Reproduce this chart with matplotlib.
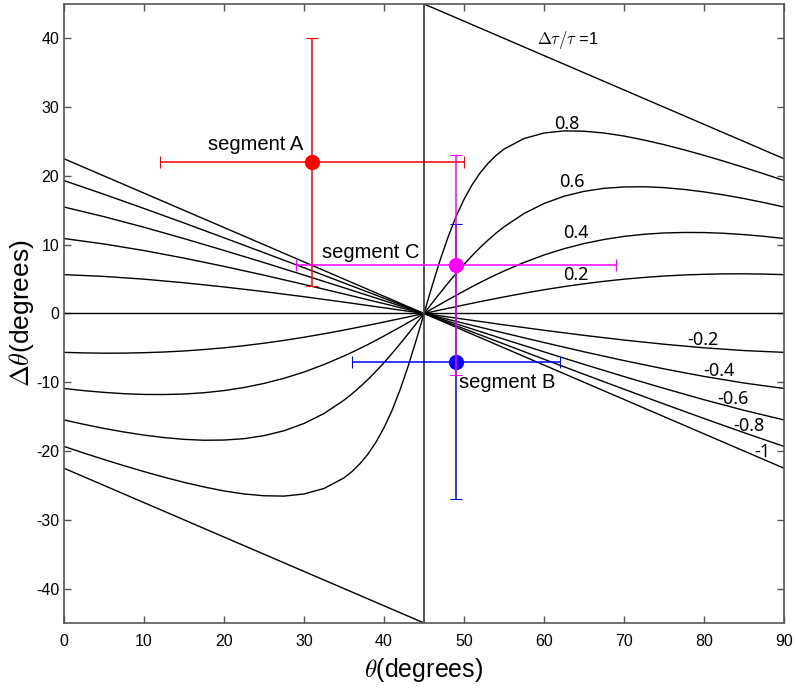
import matplotlib.pyplot as plt

plt.rcParams['font.family'] = ['Liberation Sans', 'DejaVu Sans']
plt.rcParams['mathtext.fontset'] = 'cm'
plt.rcParams['axes.unicode_minus'] = False

# theta grids (degrees)
theta_lin_left = [0, 5, 10, 15, 20, 25, 30, 35, 40, 45]
theta_lin_right = [45, 50, 55, 60, 65, 70, 75, 80, 85, 90]
theta_curve_left = [0, 2.5, 5, 7.5, 10, 12.5, 15, 17.5, 20, 22.5, 25, 27.5, 30,
                    32.5, 35, 36, 37, 38, 39, 40, 41, 42, 43, 44, 44.5, 45]
theta_curve_right = [45, 45.5, 46, 47, 48, 49, 50, 51, 52, 53, 54, 55, 57.5,
                     60, 62.5, 65, 67.5, 70, 72.5, 75, 77.5, 80, 82.5, 85, 87.5, 90]

# positive ratios, left half (nearly straight)
left_pos = {
    0.8: [19.33, 17.33, 15.27, 13.16, 11.01, 8.84, 6.65, 4.44, 2.22, 0],
    0.6: [15.48, 14.08, 12.54, 10.89, 9.17, 7.40, 5.58, 3.74, 1.87, 0],
    0.4: [10.90, 10.11, 9.15, 8.05, 6.85, 5.57, 4.22, 2.84, 1.43, 0],
    0.2: [5.65, 5.39, 4.99, 4.47, 3.86, 3.18, 2.44, 1.65, 0.83, 0],
}
# negative ratios, right half (nearly straight)
right_neg = {
    -0.2: [0, -0.83, -1.65, -2.44, -3.18, -3.86, -4.47, -4.99, -5.39, -5.65],
    -0.4: [0, -1.43, -2.84, -4.22, -5.57, -6.85, -8.05, -9.15, -10.11, -10.90],
    -0.6: [0, -1.87, -3.74, -5.58, -7.40, -9.17, -10.89, -12.54, -14.08, -15.48],
    -0.8: [0, -2.22, -4.44, -6.65, -8.84, -11.01, -13.16, -15.27, -17.33, -19.33],
}
# negative ratios, left half (curved)
left_neg = {
    -0.8: [-19.33, -20.30, -21.23, -22.13, -22.99, -23.80, -24.55, -25.22, -25.80,
           -26.24, -26.50, -26.55, -26.24, -25.44, -23.90, -22.98, -21.83, -20.43,
           -18.70, -16.60, -14.10, -11.10, -7.72, -3.96, -2.00, 0],
    -0.6: [-15.48, -16.12, -16.71, -17.23, -17.68, -18.04, -18.30, -18.43, -18.40,
           -18.20, -17.76, -17.05, -15.99, -14.54, -12.60, -11.68, -10.67, -9.58,
           -8.40, -7.14, -5.81, -4.42, -2.98, -1.50, -0.75, 0],
    -0.4: [-10.90, -11.22, -11.47, -11.66, -11.77, -11.78, -11.71, -11.52, -11.21,
           -10.76, -10.17, -9.42, -8.51, -7.42, -6.18, -5.64, -5.08, -4.50,
           -3.89, -3.27, -2.63, -1.99, -1.33, -0.67, -0.33, 0],
    -0.2: [-5.65, -5.73, -5.77, -5.76, -5.70, -5.60, -5.45, -5.24, -4.99,
           -4.68, -4.32, -3.91, -3.45, -2.95, -2.41, -2.18, -1.95, -1.72,
           -1.48, -1.24, -0.99, -0.75, -0.50, -0.25, -0.13, 0],
}
# positive ratios, right half (curved)
right_pos = {
    0.8: [0, 2.00, 3.96, 7.72, 11.10, 14.10, 16.60, 18.70, 20.43, 21.83, 22.98, 23.90,
          25.44, 26.24, 26.55, 26.50, 26.24, 25.80, 25.22, 24.55, 23.80, 22.99, 22.13,
          21.23, 20.30, 19.33],
    0.6: [0, 0.75, 1.50, 2.98, 4.42, 5.81, 7.14, 8.40, 9.58, 10.67, 11.68, 12.60,
          14.54, 15.99, 17.05, 17.76, 18.20, 18.40, 18.43, 18.30, 18.04, 17.68, 17.23,
          16.71, 16.12, 15.48],
    0.4: [0, 0.33, 0.67, 1.33, 1.99, 2.63, 3.27, 3.89, 4.50, 5.08, 5.64, 6.18,
          7.42, 8.51, 9.42, 10.17, 10.76, 11.21, 11.52, 11.71, 11.78, 11.77, 11.66,
          11.47, 11.22, 10.90],
    0.2: [0, 0.13, 0.25, 0.50, 0.75, 0.99, 1.24, 1.48, 1.72, 1.95, 2.18, 2.41,
          2.95, 3.45, 3.91, 4.32, 4.68, 4.99, 5.24, 5.45, 5.60, 5.70, 5.76,
          5.77, 5.73, 5.65],
}
# ratio = +1 / -1 and 0 are straight lines
r1_left_x, r1_left_y = [0, 45], [22.5, 0]
r1_right_x, r1_right_y = [45, 90], [45, 22.5]
rm1_left_x, rm1_left_y = [0, 45], [-22.5, -45]
rm1_right_x, rm1_right_y = [45, 90], [0, -22.5]
r0_x, r0_y = [0, 90], [0, 0]

# measured segments
seg_names = ['segment A', 'segment B', 'segment C']
seg_x = [31, 49, 49]
seg_y = [22, -7, 7]
seg_xerr = [19, 13, 20]
seg_yerr = [18, 20, 16]
seg_colors = ['#ff0000', '#0000ff', '#ff00ff']

# curve labels
curve_labels = ['0.8', '0.6', '0.4', '0.2', '-0.2', '-0.4', '-0.6', '-0.8', '-1']
label_x = [62.9, 63.5, 64.0, 64.0, 79.9, 81.9, 83.6, 85.6, 87.3]
label_y = [27.5, 19.1, 11.7, 5.6, -3.85, -8.4, -12.4, -16.35, -20.1]

fig = plt.figure(figsize=(7.96, 6.89), dpi=100)
ax = fig.add_axes([0.0804, 0.0958, 0.9046, 0.8984])

lw = 1.0
for k in left_pos:
    ax.plot(theta_lin_left, left_pos[k], color='black', lw=lw)
for k in right_neg:
    ax.plot(theta_lin_right, right_neg[k], color='black', lw=lw)
for k in left_neg:
    ax.plot(theta_curve_left, left_neg[k], color='black', lw=lw)
for k in right_pos:
    ax.plot(theta_curve_right, right_pos[k], color='black', lw=lw)
ax.plot(r1_left_x, r1_left_y, color='black', lw=lw)
ax.plot(r1_right_x, r1_right_y, color='black', lw=lw)
ax.plot(rm1_left_x, rm1_left_y, color='black', lw=lw)
ax.plot(rm1_right_x, rm1_right_y, color='black', lw=lw)
ax.plot(r0_x, r0_y, color='black', lw=lw)
ax.axvline(45, color='#444444', lw=1.3)

# error bars: A, B, then C on top
for i in [0, 1, 2]:
    ax.errorbar(seg_x[i], seg_y[i], xerr=seg_xerr[i], yerr=seg_yerr[i],
                fmt='o', color=seg_colors[i], ms=10, elinewidth=1.1,
                capsize=4, capthick=0.8, zorder=3 + i)

ax.text(18.0, 24.5, seg_names[0], fontsize=14.5, va='center', ha='left')
ax.text(49.4, -10.1, seg_names[1], fontsize=14.5, va='center', ha='left')
ax.text(32.2, 8.8, seg_names[2], fontsize=14.5, va='center', ha='left')

ax.text(59.1, 39.75, r'$\Delta\tau/\tau$ =1', fontsize=12, va='center', ha='left')
for t, x, y in zip(curve_labels, label_x, label_y):
    ax.text(x, y, t, fontsize=13, va='center', ha='center', family=['Noto Sans', 'DejaVu Sans'])

ax.set_xlim(0, 90)
ax.set_ylim(-45, 45)
ax.set_xticks(range(0, 91, 10))
ax.set_yticks(range(-40, 41, 10))
ax.tick_params(direction='in', length=5, width=1, top=True, right=True,
               labelsize=11.5, color='#555555')
for s in ax.spines.values():
    s.set_color('#555555')
    s.set_linewidth(1.2)
ax.tick_params(axis='x', pad=8)

ax.set_xlabel(r'$\theta$(degrees)', fontsize=18, labelpad=5)
ax.set_ylabel(r'$\Delta\theta$(degrees)', fontsize=19, labelpad=0)

fig.savefig('out.png', dpi=100)
